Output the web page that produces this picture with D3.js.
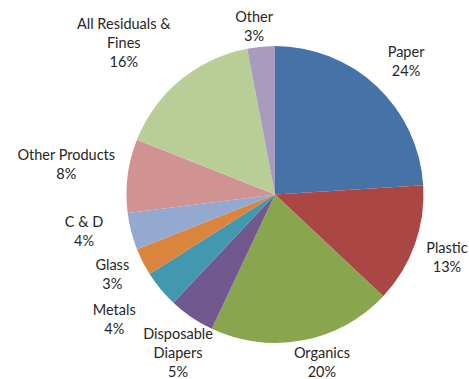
<!DOCTYPE html>
<html>
<head>
<meta charset="utf-8">
<script src="https://cdn.jsdelivr.net/npm/d3@7"></script>
<style>
  html, body { margin: 0; padding: 0; background: #fff; }
  svg text { font-family: Lato, "Open Sans", sans-serif; fill: #262626; }
</style>
</head>
<body>
<div id="chart"></div>
<script>
(function () {
  'use strict';

  // Waste composition (percent), clockwise from 12 o'clock
  const categories = ['Paper', 'Plastic', 'Organics', 'Disposable Diapers', 'Metals',
    'Glass', 'C & D', 'Other Products', 'All Residuals & Fines', 'Other'];
  const values = [24, 13, 20, 5, 4, 3, 4, 8, 16, 3];
  const colors = ['#4572a7', '#aa4643', '#89a54e', '#71588f', '#4198af',
    '#db843d', '#93a9cf', '#d19392', '#b9cd96', '#a99bbd'];
  // label lines (wrapped as in the original)
  const labelLines = [['Paper'], ['Plastic'], ['Organics'], ['Disposable', 'Diapers'], ['Metals'],
    ['Glass'], ['C & D'], ['Other Products'], ['All Residuals &', 'Fines'], ['Other']];
  // label placement: distance as multiple of radius, and angle nudge (deg) from slice middle
  const labelRadius = [1.257, 1.233, 1.175, 1.25, 1.37, 1.22, 1.31, 1.42, 1.44, 1.14];
  const labelShift = [1.4, 0.3, -4.8, -2.7, 1.8, 0.9, 3.4, 1.0, -5.4, -1.7];

  const width = 469, height = 379;
  const cx = 275, cy = 194.5, radius = 148.5;
  const lineH = 19;

  const svg = d3.select('#chart').append('svg')
    .attr('width', width)
    .attr('height', height);

  const data = categories.map((c, i) => ({ name: c, value: values[i], i }));

  const pie = d3.pie().sort(null).value(d => d.value);
  const arcs = pie(data);
  const arc = d3.arc().innerRadius(0).outerRadius(radius);

  const g = svg.append('g').attr('transform', `translate(${cx},${cy})`);

  g.selectAll('path')
    .data(arcs)
    .join('path')
    .attr('d', arc)
    .attr('fill', d => colors[d.data.i]);

  const labels = svg.append('g')
    .selectAll('text')
    .data(arcs)
    .join('text')
    .attr('text-anchor', 'middle')
    .attr('font-size', 14.5)
    .attr('transform', d => {
      const a = (d.startAngle + d.endAngle) / 2 + labelShift[d.data.i] * Math.PI / 180;
      const r = radius * labelRadius[d.data.i];
      const x = cx + Math.sin(a) * r;
      const y = cy - Math.cos(a) * r;
      const n = labelLines[d.data.i].length + 1;
      return `translate(${x},${y - (n - 1) * lineH / 2})`;
    });

  labels.each(function (d) {
    const t = d3.select(this);
    const lines = labelLines[d.data.i].concat([d.data.value + '%']);
    lines.forEach((s, k) => {
      t.append('tspan')
        .attr('x', 0)
        .attr('y', k * lineH)
        .attr('dy', '0.35em')
        .text(s);
    });
  });
})();
</script>
</body>
</html>
